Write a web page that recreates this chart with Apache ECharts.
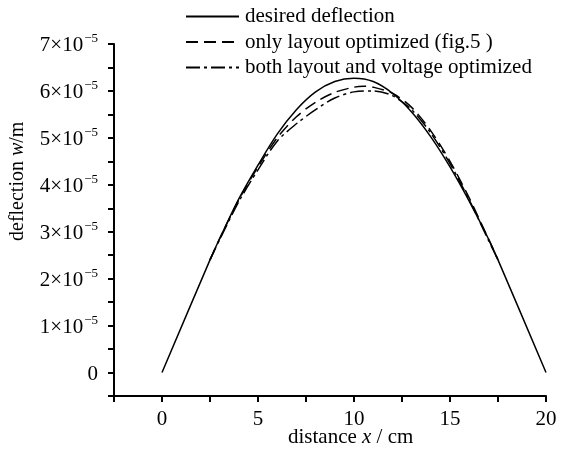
<!DOCTYPE html>
<html><head><meta charset="utf-8">
<script src="https://cdn.jsdelivr.net/npm/echarts@6/dist/echarts.min.js"></script>
<style>html,body{margin:0;padding:0;background:#fff}#c{width:569px;height:450px}</style>
</head><body><div id="c"></div>
<script>
// values of deflection in units of 1e-5 m
const desiredX = [0, 2.5, 3, 4, 5, 6, 7, 8, 9, 10, 11, 12, 13, 14, 15, 16, 17, 17.5, 20];
const desiredY = [0, 2.4, 2.85, 3.7, 4.42, 5.08, 5.6, 5.98, 6.2, 6.27, 6.2, 5.95, 5.55, 5.02, 4.38, 3.65, 2.85, 2.4, 0];
const layoutX = [2.5, 3, 4, 5, 6, 7, 8, 9, 10, 10.5, 11, 12, 13, 14, 15, 16, 17, 17.5];
const layoutY = [2.4, 2.85, 3.68, 4.38, 5.0, 5.45, 5.76, 5.97, 6.08, 6.1, 6.08, 5.95, 5.65, 5.15, 4.5, 3.72, 2.85, 2.4];
const bothX = [2.5, 3, 4, 5, 6, 7, 8, 9, 10, 11, 12, 13, 14, 15, 16, 17, 17.5];
const bothY = [2.4, 2.83, 3.64, 4.32, 4.93, 5.3, 5.6, 5.85, 5.98, 6.0, 5.9, 5.6, 5.1, 4.45, 3.68, 2.82, 2.4];
const seriesNames = ['desired deflection', 'only layout optimized (fig.5 )', 'both layout and voltage optimized'];
const xTickLabels = [0, 5, 10, 15, 20];
const yTickLabels = [0, 1, 2, 3, 4, 5, 6, 7];

const pairs = (xs, ys) => xs.map((x, i) => [x, ys[i]]);
const FONT = 'Liberation Serif';
const chart = echarts.init(document.getElementById('c'));
const lineBase = {type: 'line', showSymbol: false, symbol: 'none', smooth: 0.3, z: 3};
chart.setOption({
  animation: false,
  backgroundColor: '#fff',
  grid: {left: 114, right: 23, top: 44, bottom: 54},
  legend: {
    orient: 'vertical', left: 180, top: 1, itemWidth: 53, itemHeight: 14, itemGap: 4.5,
    itemStyle: {opacity: 0, borderWidth: 0},
    textStyle: {fontFamily: FONT, fontSize: 21, color: '#000', padding: [0, 0, 0, 1]},
    data: seriesNames
  },
  xAxis: {
    type: 'value', min: -2.5, max: 20, interval: 2.5,
    axisLine: {onZero: false, lineStyle: {color: '#000', width: 2}},
    axisTick: {inside: false, length: 6, lineStyle: {color: '#000', width: 2}},
    splitLine: {show: false},
    axisLabel: {
      fontFamily: FONT, fontSize: 21, color: '#000', margin: 13, interval: 0,
      formatter: v => xTickLabels.indexOf(v) >= 0 ? String(v) : ''
    }
  },
  yAxis: {
    type: 'value', min: -0.5, max: 7, interval: 0.5,
    axisLine: {onZero: false, lineStyle: {color: '#000', width: 2}},
    axisTick: {inside: false, length: 6, lineStyle: {color: '#000', width: 2}},
    splitLine: {show: false},
    axisLabel: {
      fontFamily: FONT, fontSize: 21, color: '#000', margin: 16, interval: 0,
      formatter: v => {
        if (yTickLabels.indexOf(v) < 0) return '';
        if (v === 0) return '{b|0}';
        return '{b|' + v + '×10}{s|−5}';
      },
      rich: {
        b: {fontFamily: FONT, fontSize: 21, color: '#000', lineHeight: 24, verticalAlign: 'bottom'},
        s: {fontFamily: FONT, fontSize: 13, color: '#000', lineHeight: 24, verticalAlign: 'top', padding: [0, 0, 10, 1]}
      }
    }
  },
  graphic: [
    {type: 'text', left: 288, top: 427, style: {
      text: '{a|distance }{i|x}{a| / cm}', font: '21px ' + FONT, fill: '#000',
      rich: {a: {fontFamily: FONT, fontSize: 21, fill: '#000'}, i: {fontFamily: FONT, fontSize: 21, fontStyle: 'italic', fill: '#000'}}
    }},
    {type: 'text', x: 8, y: 241, rotation: Math.PI / 2, style: {
      text: '{a|deflection }{i|w}{a|/m}', font: '20px ' + FONT, fill: '#000',
      rich: {a: {fontFamily: FONT, fontSize: 20, fill: '#000'}, i: {fontFamily: FONT, fontSize: 20, fontStyle: 'italic', fill: '#000'}}
    }}
  ],
  series: [
    Object.assign({}, lineBase, {name: seriesNames[0], data: pairs(desiredX, desiredY),
      lineStyle: {color: '#000', width: 1.5, type: 'solid'}, itemStyle: {color: '#000'}}),
    Object.assign({}, lineBase, {name: seriesNames[1], data: pairs(layoutX, layoutY),
      lineStyle: {color: '#000', width: 1.5, type: [12, 6]}, itemStyle: {color: '#000'}}),
    Object.assign({}, lineBase, {name: seriesNames[2], data: pairs(bothX, bothY),
      lineStyle: {color: '#000', width: 1.5, type: [14, 4, 3, 4]}, itemStyle: {color: '#000'}})
  ]
});
</script></body></html>
